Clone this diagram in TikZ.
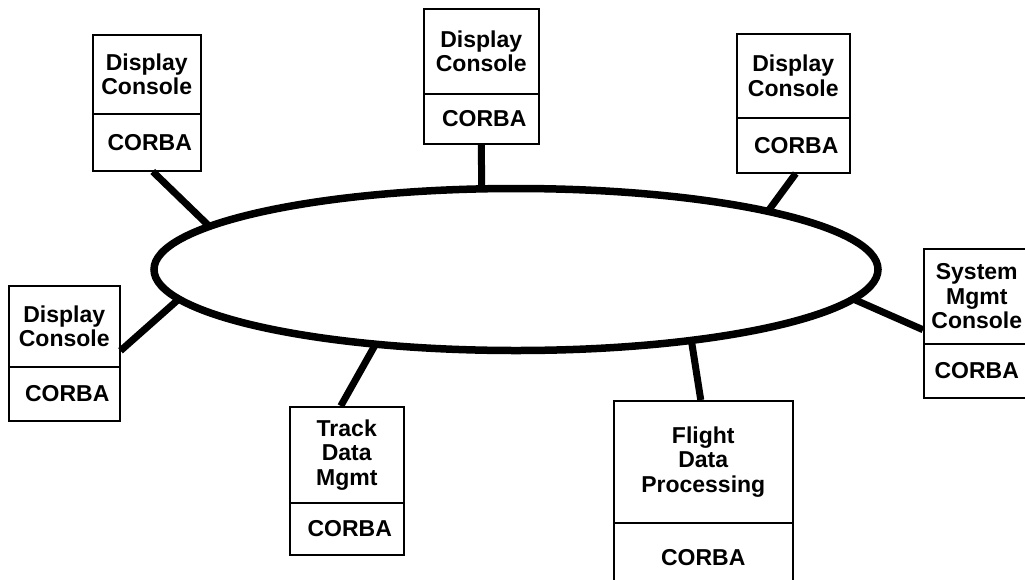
\documentclass[tikz,border=0pt]{standalone}
\usepackage{fontspec}
\setmainfont{Liberation Sans}
\usetikzlibrary{shapes.geometric}
\begin{document}
\begin{tikzpicture}[x=1pt,y=-1pt,
  lbl/.style={draw, line width=1.5pt, fill=white, rectangle, anchor=north west,
    inner sep=0pt, align=center, font=\fontsize{23}{24.5}\selectfont\bfseries},
  conn/.style={line width=7pt},
  ring/.style={draw, ellipse, line width=7.5pt, outer sep=0pt, inner sep=0pt}]
\useasboundingbox (0,0) rectangle (1025,579);
\clip (0,0) rectangle (1025,579);

% ring
\node[ring, minimum width=724pt, minimum height=162pt] (ring) at (516,269.5) {};

% Box 1 (top left)
\node[lbl, minimum width=108pt, minimum height=79pt] (d1) at (92,34) {Display\\Console};
\node[lbl, minimum width=108pt, minimum height=57pt] (c1) at (92,113) {\hspace{6pt}CORBA};
% Box 2 (top centre)
\node[lbl, minimum width=115pt, minimum height=85pt] (d2) at (423,8) {Display\\Console};
\node[lbl, minimum width=115pt, minimum height=50pt] (c2) at (423,93) {\hspace{6pt}CORBA};
% Box 3 (top right)
\node[lbl, minimum width=113pt, minimum height=84pt] (d3) at (736,33) {Display\\Console};
\node[lbl, minimum width=113pt, minimum height=55pt] (c3) at (736,117) {\hspace{6pt}CORBA};
% Box 4 (left)
\node[lbl, minimum width=111pt, minimum height=81pt] (d4) at (8,285) {Display\\Console};
\node[lbl, minimum width=111pt, minimum height=54pt] (c4) at (8,366) {\hspace{6pt}CORBA};
% Box 5 (system mgmt, right)
\node[lbl, minimum width=106pt, minimum height=95pt] (d5) at (923,248) {System\\Mgmt\\Console};
\node[lbl, minimum width=106pt, minimum height=54pt] (c5) at (923,343) {CORBA};
% Box 6 (track data mgmt)
\node[lbl, minimum width=114pt, minimum height=96pt] (d6) at (289,406) {Track\\Data\\Mgmt};
\node[lbl, minimum width=114pt, minimum height=52pt] (c6) at (289,502) {\hspace{6pt}CORBA};
% Box 7 (flight data processing)
\node[lbl, minimum width=179pt, minimum height=122pt] (d7) at (613,400) {Flight\\Data\\Processing};
\node[lbl, minimum width=179pt, minimum height=70pt] (c7) at (613,522) {CORBA};

% connectors
\draw[conn] ([xshift=6pt]c1.south) -- (ring.172);
\draw[conn] (c2.south) -- (ring.113.8);
\draw[conn] ([xshift=2.5pt]c3.south) -- (ring.13.7);
\draw[conn] ([yshift=-24.5pt]d4.east) -- (ring.185.6);
\draw[conn] ([yshift=-33.5pt]d5.west) -- (ring.-5.2);
\draw[conn] ([xshift=-6pt]d6.north) -- (ring.208.7);
\draw[conn] ([xshift=-2.5pt]d7.north) -- (ring.338.5);
\end{tikzpicture}
\end{document}
